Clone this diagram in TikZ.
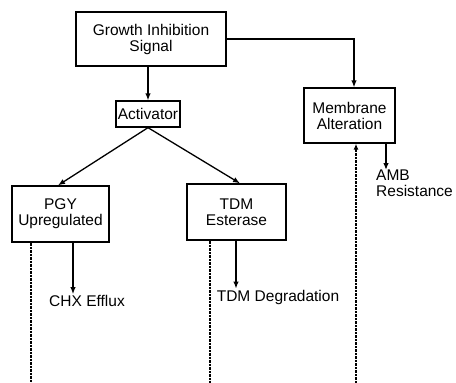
\documentclass[tikz,border=0pt]{standalone}
\usepackage{fontspec}
\setmainfont{Liberation Sans}
\usetikzlibrary{arrows.meta}
\begin{document}
\begin{tikzpicture}[x=1pt,y=-1pt,
  font=\fontsize{15.5}{16}\selectfont,
  box/.style={draw, line width=1.3pt, align=center, inner sep=0pt},
  lbl/.style={inner sep=1pt, align=left},
  arr/.style={line width=1.3pt, -{Latex[length=7pt,width=5.5pt]}},
  dotline/.style={line width=1.4pt, dash pattern=on 0.8pt off 0.6pt}]
\useasboundingbox (0,0) rectangle (456,383);
\clip (0,0) rectangle (456,383);
\fill[white] (0,0) rectangle (456,383);
\node[box, minimum width=150pt, minimum height=54pt] (gis) at (151,39) {Growth Inhibition\\Signal};
\node[box, minimum width=64pt, minimum height=26pt] (act) at (148,114) {Activator};
\node[box, minimum width=91pt, minimum height=55pt] (mem) at (349.5,115.5) {Membrane\\Alteration};
\node[box, minimum width=97pt, minimum height=56pt] (pgy) at (60.5,214) {PGY\\Upregulated};
\node[box, minimum width=99pt, minimum height=56pt] (tdm) at (236.5,212) {TDM\\Esterase};
\node[lbl, anchor=north west, inner sep=0pt] (amb) at (376,170) {AMB\\Resistance};
\node[lbl] (chx) at (87,301) {CHX Efflux};
\node[lbl] (deg) at (278,297) {TDM Degradation};
\coordinate (bot1) at (31,390);
\coordinate (bot2) at (210,390);
\coordinate (bot3) at (356,390);
% arrows
\draw[arr] (act.north |- gis.south) -- (act.north);
\draw[arr] (gis.east) -| ([xshift=4.5pt]mem.north);
\draw[arr] (act.south) -- ([xshift=-2.5pt]pgy.north);
\draw[arr] (act.south) -- ([xshift=3.5pt]tdm.north);
\draw[arr] (amb.north -| 386,0) ++(0,-27) -- (amb.north -| 386,0);
\draw[arr] (pgy.south -| 73,0) -- (chx.north -| 73,0);
\draw[arr] (tdm.south -| 236,0) -- (deg.north -| 236,0);
% dotted
\draw[dotline] (pgy.south -| bot1) -- (bot1);
\draw[dotline] (tdm.south -| bot2) -- (bot2);
\draw[dotline, -{Latex[length=6pt,width=5pt]}] (bot3) -- (mem.south -| bot3);
\end{tikzpicture}
\end{document}
